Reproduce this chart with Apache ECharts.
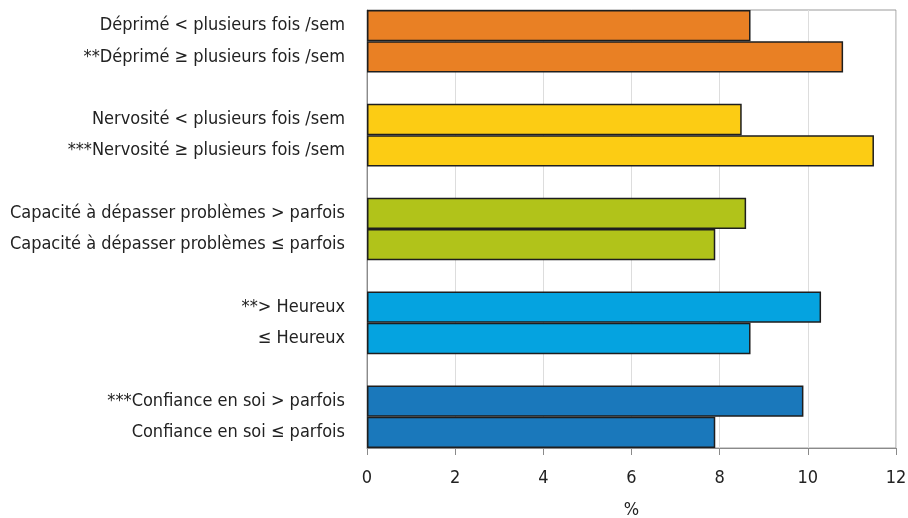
<!DOCTYPE html>
<html><head><meta charset="utf-8">
<script src="https://cdn.jsdelivr.net/npm/echarts@6/dist/echarts.min.js"></script>
<style>html,body{margin:0;padding:0;background:#fff}#c{width:908px;height:518px}</style>
</head><body><div id="c"></div>
<script>
var categories = [
  "Déprimé < plusieurs fois /sem",
  "**Déprimé ≥ plusieurs fois /sem",
  "",
  "Nervosité < plusieurs fois /sem",
  "***Nervosité ≥ plusieurs fois /sem",
  " ",
  "Capacité à dépasser problèmes > parfois",
  "Capacité à dépasser problèmes ≤ parfois",
  "  ",
  "**> Heureux",
  "≤ Heureux",
  "   ",
  "***Confiance en soi > parfois",
  "Confiance en soi ≤ parfois"
];
var values = [8.7, 10.8, null, 8.5, 11.5, null, 8.6, 7.9, null, 10.3, 8.7, null, 9.9, 7.9];
var colors = ["#E98024","#E98024",null,"#FCCC14","#FCCC14",null,"#B1C31A","#B1C31A",null,"#05A3E0","#05A3E0",null,"#1A78BB","#1A78BB"];
var xTicks = [0, 2, 4, 6, 8, 10, 12];

var FONT = "'Liberation Sans Narrow', 'DejaVu Sans Condensed', sans-serif";
var data = values.map(function(v, i){
  return v == null ? '-' : {value: v, itemStyle: {color: colors[i]}};
});
var chart = echarts.init(document.getElementById('c'));
chart.setOption({
  animation: false,
  grid: {left: 367, right: 12, top: 10, bottom: 70, show: true, borderColor: '#9a9a9a', borderWidth: 1,
         containLabel: false, outerBoundsMode: 'none'},
  xAxis: {
    type: 'value', min: xTicks[0], max: xTicks[xTicks.length-1], interval: 2,
    name: '%', nameLocation: 'middle', nameGap: 53,
    nameTextStyle: {fontFamily: FONT, fontSize: 18, color: '#222'},
    axisLine: {show: true, lineStyle: {color: '#8a8a8a', width: 1}},
    axisTick: {show: true, length: 7, lineStyle: {color: '#8a8a8a'}},
    axisLabel: {fontFamily: FONT, fontSize: 18, color: '#222', margin: 21},
    splitLine: {show: true, lineStyle: {color: '#dddddd', width: 1}}
  },
  yAxis: {
    type: 'category', data: categories, inverse: true,
    axisLine: {show: true, lineStyle: {color: '#8a8a8a'}},
    axisTick: {show: false},
    axisLabel: {fontFamily: FONT, fontSize: 18, color: '#222', margin: 22}
  },
  series: [{
    type: 'bar', data: data, barWidth: '100%',
    itemStyle: {borderColor: '#1e1e1e', borderWidth: 1.5}
  }]
});
</script></body></html>
